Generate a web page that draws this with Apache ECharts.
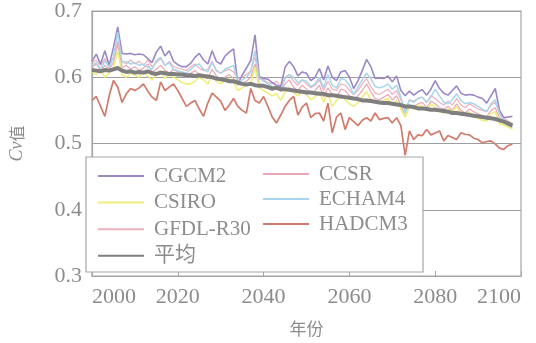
<!DOCTYPE html>
<html>
<head>
<meta charset="utf-8">
<style>
  html, body { margin: 0; padding: 0; background: #ffffff; }
  #chart { width: 536px; height: 343px; }
</style>
<script src="https://cdn.jsdelivr.net/npm/echarts@6/dist/echarts.min.js"></script>
</head>
<body>
<div id="chart"></div>
<script>
// Years of the simulation, 2000-2098
const years = Array.from({ length: 99 }, (_, i) => 2000 + i);

// Cv values per model, one value per year
const cgcm2 = [
  0.624, 0.635, 0.620, 0.640, 0.618, 0.645, 0.676, 0.636, 0.635, 0.636,
  0.634, 0.635, 0.634, 0.628, 0.622, 0.638, 0.647, 0.632, 0.640, 0.624,
  0.619, 0.616, 0.616, 0.621, 0.630, 0.636, 0.626, 0.620, 0.640, 0.624,
  0.620, 0.632, 0.638, 0.643, 0.590, 0.603, 0.614, 0.625, 0.664, 0.601,
  0.598, 0.597, 0.592, 0.588, 0.586, 0.615, 0.624, 0.616, 0.602, 0.608,
  0.606, 0.595, 0.600, 0.613, 0.596, 0.617, 0.600, 0.595, 0.608, 0.610,
  0.600, 0.583, 0.595, 0.610, 0.627, 0.616, 0.598, 0.599, 0.598, 0.602,
  0.593, 0.602, 0.580, 0.572, 0.579, 0.573, 0.578, 0.581, 0.573, 0.582,
  0.595, 0.583, 0.576, 0.573, 0.580, 0.587, 0.576, 0.573, 0.574, 0.573,
  0.570, 0.568, 0.561, 0.572, 0.583, 0.550, 0.539, 0.540, 0.541
];
const ccsr = [
  0.615, 0.620, 0.610, 0.618, 0.612, 0.622, 0.650, 0.614, 0.618, 0.612,
  0.616, 0.610, 0.614, 0.620, 0.608, 0.612, 0.618, 0.610, 0.606, 0.612,
  0.608, 0.604, 0.600, 0.606, 0.610, 0.604, 0.600, 0.598, 0.612, 0.602,
  0.596, 0.600, 0.604, 0.598, 0.588, 0.592, 0.594, 0.600, 0.620, 0.590,
  0.588, 0.584, 0.580, 0.586, 0.578, 0.590, 0.596, 0.585, 0.580, 0.588,
  0.582, 0.576, 0.580, 0.588, 0.570, 0.584, 0.574, 0.570, 0.582, 0.580,
  0.572, 0.566, 0.572, 0.580, 0.590, 0.578, 0.568, 0.566, 0.570, 0.574,
  0.566, 0.572, 0.558, 0.540, 0.558, 0.556, 0.560, 0.562, 0.554, 0.564,
  0.560, 0.554, 0.552, 0.556, 0.550, 0.560, 0.550, 0.546, 0.552, 0.548,
  0.545, 0.542, 0.540, 0.550, 0.554, 0.538, 0.532, 0.528, 0.524
];
const csiro = [
  0.608, 0.604, 0.612, 0.600, 0.606, 0.615, 0.640, 0.604, 0.600, 0.606,
  0.603, 0.600, 0.608, 0.602, 0.596, 0.604, 0.610, 0.598, 0.605, 0.600,
  0.596, 0.592, 0.590, 0.590, 0.594, 0.600, 0.596, 0.590, 0.603, 0.594,
  0.590, 0.595, 0.598, 0.592, 0.580, 0.584, 0.588, 0.592, 0.615, 0.584,
  0.580, 0.576, 0.572, 0.575, 0.565, 0.578, 0.584, 0.577, 0.572, 0.580,
  0.574, 0.566, 0.570, 0.578, 0.562, 0.576, 0.556, 0.565, 0.572, 0.566,
  0.560, 0.556, 0.562, 0.570, 0.578, 0.566, 0.562, 0.560, 0.565, 0.568,
  0.558, 0.565, 0.552, 0.540, 0.556, 0.552, 0.558, 0.556, 0.550, 0.560,
  0.555, 0.548, 0.546, 0.552, 0.548, 0.556, 0.545, 0.542, 0.548, 0.540,
  0.538, 0.535, 0.534, 0.545, 0.548, 0.530, 0.528, 0.525, 0.522
];
const echam4 = [
  0.618, 0.622, 0.612, 0.625, 0.615, 0.630, 0.668, 0.622, 0.624, 0.620,
  0.622, 0.618, 0.620, 0.615, 0.612, 0.625, 0.630, 0.618, 0.622, 0.612,
  0.610, 0.608, 0.606, 0.612, 0.618, 0.620, 0.612, 0.608, 0.622, 0.610,
  0.606, 0.612, 0.615, 0.618, 0.592, 0.596, 0.600, 0.608, 0.640, 0.598,
  0.594, 0.590, 0.586, 0.582, 0.580, 0.598, 0.604, 0.600, 0.592, 0.596,
  0.594, 0.586, 0.590, 0.600, 0.584, 0.604, 0.588, 0.584, 0.598, 0.596,
  0.588, 0.574, 0.585, 0.596, 0.606, 0.598, 0.586, 0.584, 0.586, 0.590,
  0.582, 0.588, 0.570, 0.546, 0.566, 0.562, 0.568, 0.570, 0.562, 0.570,
  0.582, 0.572, 0.562, 0.560, 0.566, 0.575, 0.565, 0.560, 0.562, 0.560,
  0.556, 0.552, 0.548, 0.560, 0.566, 0.545, 0.533, 0.530, 0.526
];
const gfdlR30 = [
  0.622, 0.626, 0.618, 0.628, 0.620, 0.630, 0.655, 0.624, 0.620, 0.626,
  0.620, 0.624, 0.618, 0.626, 0.616, 0.622, 0.628, 0.618, 0.624, 0.616,
  0.614, 0.612, 0.610, 0.616, 0.620, 0.614, 0.610, 0.612, 0.624, 0.610,
  0.606, 0.610, 0.612, 0.608, 0.598, 0.600, 0.604, 0.610, 0.630, 0.598,
  0.596, 0.592, 0.590, 0.594, 0.586, 0.600, 0.604, 0.594, 0.588, 0.596,
  0.590, 0.584, 0.588, 0.596, 0.580, 0.594, 0.582, 0.580, 0.590, 0.588,
  0.580, 0.574, 0.580, 0.590, 0.598, 0.586, 0.576, 0.574, 0.578, 0.582,
  0.574, 0.580, 0.566, 0.550, 0.566, 0.564, 0.568, 0.570, 0.562, 0.572,
  0.568, 0.562, 0.558, 0.564, 0.558, 0.568, 0.558, 0.554, 0.560, 0.556,
  0.552, 0.550, 0.548, 0.558, 0.562, 0.546, 0.538, 0.534, 0.530
];
const hadcm3 = [
  0.565, 0.571, 0.556, 0.541, 0.572, 0.595, 0.585, 0.562, 0.575, 0.583,
  0.580, 0.584, 0.590, 0.579, 0.570, 0.565, 0.593, 0.580, 0.585, 0.590,
  0.580, 0.568, 0.556, 0.561, 0.565, 0.552, 0.541, 0.561, 0.576, 0.570,
  0.564, 0.550, 0.558, 0.568, 0.556, 0.550, 0.546, 0.583, 0.565, 0.561,
  0.571, 0.556, 0.540, 0.531, 0.543, 0.556, 0.565, 0.571, 0.543, 0.555,
  0.561, 0.539, 0.545, 0.546, 0.534, 0.561, 0.516, 0.540, 0.546, 0.521,
  0.539, 0.533, 0.527, 0.535, 0.539, 0.534, 0.546, 0.536, 0.538, 0.539,
  0.531, 0.539, 0.527, 0.482, 0.519, 0.506, 0.513, 0.512, 0.521, 0.513,
  0.516, 0.519, 0.504, 0.512, 0.509, 0.506, 0.516, 0.514, 0.513, 0.508,
  0.506, 0.501, 0.503, 0.504, 0.499, 0.493, 0.491, 0.497, 0.499
];
const average = [
  0.611, 0.610, 0.609, 0.611, 0.610, 0.612, 0.614, 0.610, 0.608, 0.609,
  0.607, 0.608, 0.607, 0.609, 0.606, 0.605, 0.607, 0.606, 0.605, 0.605,
  0.604, 0.604, 0.603, 0.603, 0.602, 0.603, 0.602, 0.601, 0.600, 0.598,
  0.597, 0.596, 0.594, 0.594, 0.592, 0.590, 0.589, 0.590, 0.588, 0.587,
  0.587, 0.585, 0.583, 0.584, 0.582, 0.582, 0.581, 0.580, 0.579, 0.578,
  0.577, 0.577, 0.576, 0.575, 0.575, 0.573, 0.573, 0.572, 0.571, 0.570,
  0.569, 0.568, 0.567, 0.565, 0.565, 0.564, 0.563, 0.562, 0.561, 0.561,
  0.560, 0.559, 0.558, 0.556, 0.556, 0.555, 0.553, 0.553, 0.552, 0.551,
  0.551, 0.550, 0.549, 0.548, 0.546, 0.546, 0.545, 0.544, 0.543, 0.542,
  0.541, 0.540, 0.539, 0.538, 0.537, 0.535, 0.533, 0.530, 0.527
];

// Axis ranges and tick steps
const xTicks = [2000, 2020, 2040, 2060, 2080, 2100];
const yTicks = [0.3, 0.4, 0.5, 0.6, 0.7];

const TEXT = '#8c8c8c';
const SERIF = '"Liberation Serif", "Times New Roman", "Noto Sans CJK SC", serif';

const models = [
  { name: 'CGCM2', values: cgcm2, color: '#9c88c6', width: 1.6 },
  { name: 'CCSR', values: ccsr, color: '#eaa6b4', width: 1.2 },
  { name: 'CSIRO', values: csiro, color: '#f0ee7a', width: 1.6 },
  { name: 'ECHAM4', values: echam4, color: '#a8d6ea', width: 1.5 },
  { name: 'GFDL-R30', values: gfdlR30, color: '#edb0bc', width: 1.2 },
  { name: 'HADCM3', values: hadcm3, color: '#d27a6c', width: 1.7 },
  { name: '平均', values: average, color: '#7f7f7f', width: 4 }
];

const series = models.map(m => ({
  name: m.name,
  type: 'line',
  symbol: 'none',
  smooth: false,
  z: m.name === '平均' ? 5 : (m.name === 'CCSR' || m.name === 'GFDL-R30' ? 2 : 3),
  lineStyle: { color: m.color, width: m.width },
  itemStyle: { color: m.color },
  data: years.map((y, i) => [y, m.values[i]])
}));

const legendText = {
  color: TEXT,
  fontFamily: SERIF,
  fontSize: 21,
  lineHeight: 22,
  padding: [0, 0, 0, 5]
};

// Legend keys show only the line stroke, no point marker
const legendBase = {
  orient: 'vertical',
  itemWidth: 46, itemHeight: 14,
  padding: 0,
  z: 200,
  itemStyle: { opacity: 0 },
  textStyle: legendText
};

// First and last year labels sit inside the plot: padded on the outer side
// by the width of the text so the visible digits start/end at the tick.
const xLabelRich = {
  first: { color: TEXT, fontSize: 22, fontFamily: SERIF, padding: [0, 0, 0, 44] },
  last: { color: TEXT, fontSize: 22, fontFamily: SERIF, padding: [0, 44, 0, 0] }
};

const chart = echarts.init(document.getElementById('chart'), null, { renderer: 'canvas' });
chart.setOption({
  backgroundColor: '#ffffff',
  animation: false,
  grid: {
    left: 87, right: 15, top: 6, bottom: 67,
    show: true, borderColor: '#a6a6a6', borderWidth: 1.2
  },
  xAxis: {
    type: 'value',
    min: xTicks[0],
    max: xTicks[xTicks.length - 1],
    interval: xTicks[1] - xTicks[0],
    name: '年份',
    nameLocation: 'middle',
    nameGap: 44,
    nameTextStyle: { color: TEXT, fontSize: 17, fontFamily: '"Noto Sans CJK SC", sans-serif' },
    axisLine: { show: true, lineStyle: { color: '#a6a6a6', width: 1.2 } },
    axisTick: { show: true, inside: true, length: 5, lineStyle: { color: '#a6a6a6' } },
    splitLine: { show: false },
    axisLabel: {
      color: TEXT, fontSize: 22, fontFamily: SERIF, margin: 10,
      hideOverlap: false,
      rich: xLabelRich,
      formatter: v => {
        if (v === xTicks[0]) return '{first|' + v + '}';
        if (v === xTicks[xTicks.length - 1]) return '{last|' + v + '}';
        return String(v);
      }
    }
  },
  yAxis: {
    type: 'value',
    min: yTicks[0],
    max: yTicks[yTicks.length - 1],
    interval: 0.1,
    name: '{i|Cv}{c|值}',
    nameLocation: 'middle',
    nameGap: 66,
    nameTextStyle: {
      rich: {
        i: { color: TEXT, fontSize: 18, fontStyle: 'italic', fontFamily: SERIF },
        c: { color: TEXT, fontSize: 16, fontFamily: '"Noto Sans CJK SC", sans-serif' }
      }
    },
    axisLine: { show: true, lineStyle: { color: '#a6a6a6', width: 1.2 } },
    axisTick: { show: false },
    splitLine: { show: true, lineStyle: { color: '#9e9e9e', width: 1.2 } },
    axisLabel: {
      color: TEXT, fontSize: 22, fontFamily: SERIF, margin: 10,
      formatter: v => v.toFixed(1)
    }
  },
  legend: [
    Object.assign({}, legendBase, {
      data: ['CGCM2', 'CSIRO', 'GFDL-R30', '平均'],
      left: 97, top: 165, itemGap: 4.6
    }),
    Object.assign({}, legendBase, {
      data: ['CCSR', 'ECHAM4', 'HADCM3'],
      left: 262, top: 163, itemGap: 3
    })
  ],
  graphic: [
    {
      type: 'rect',
      z: 100,
      shape: { x: 86, y: 157, width: 337, height: 115 },
      style: { fill: '#ffffff', stroke: '#a6a6a6', lineWidth: 1.2 }
    }
  ],
  series: series
});
</script>
</body>
</html>
